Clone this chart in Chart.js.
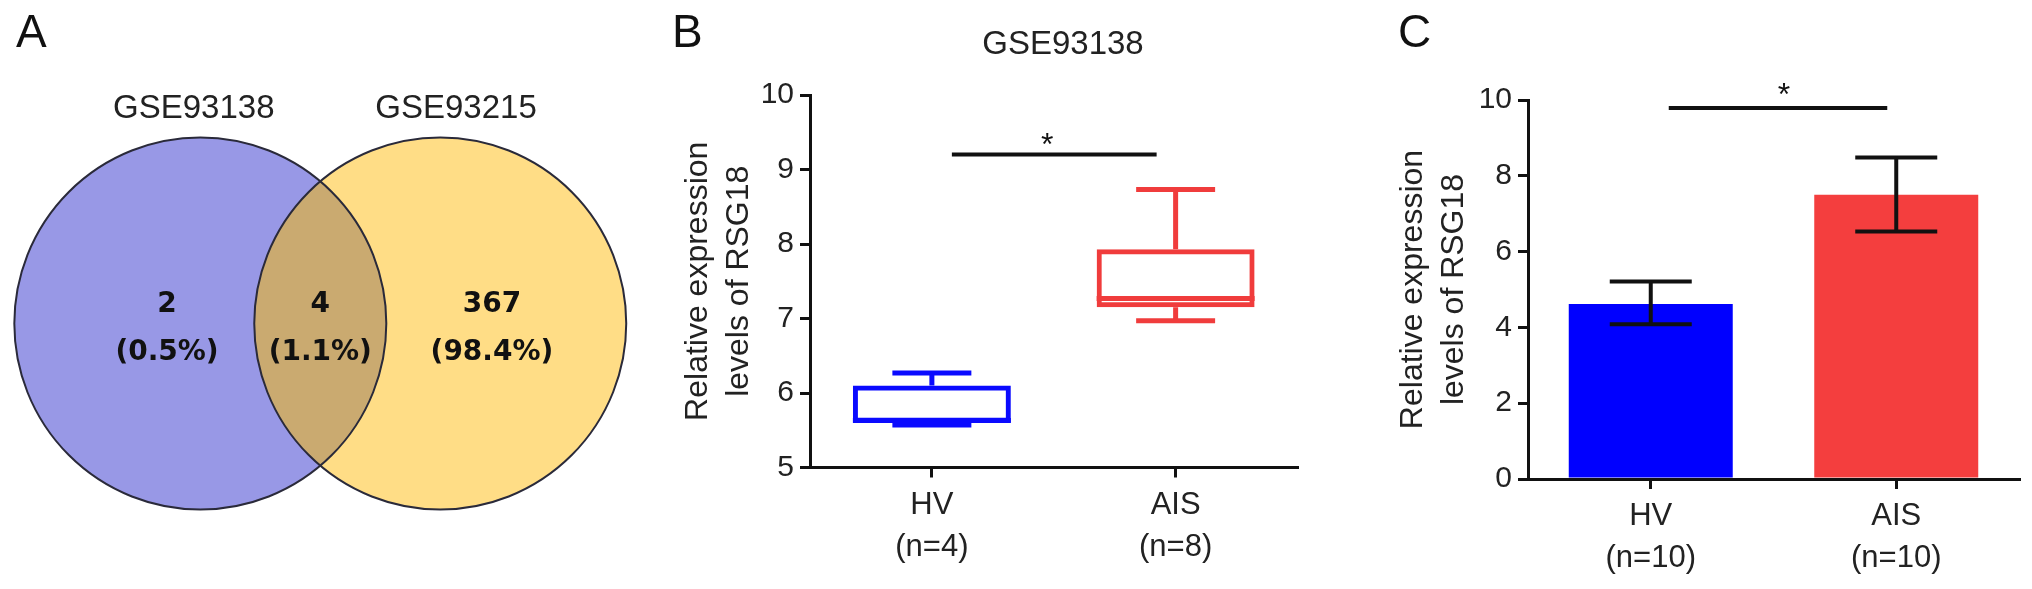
<!DOCTYPE html>
<html>
<head>
<meta charset="utf-8">
<script src="https://cdn.jsdelivr.net/npm/chart.js@4.4.0/dist/chart.umd.min.js"></script>
<style>
    body { margin: 0; background: #fff; }
    #wrap { position: relative; width: 2032px; height: 589px; overflow: hidden; font-family: 'Liberation Sans', Arial, sans-serif; color: #111; }
    canvas { position: absolute; top: 0; }
    .tag { position: absolute; top: 8px; font-size: 46px; line-height: 46px; }
    #titleB { position: absolute; left: 913px; top: 26px; width: 300px; text-align: center; font-size: 33px; line-height: 33px; color: #222; }
</style>
</head>
<body>
<div id="wrap">
    <canvas id="venn" width="640" height="589" style="left:0"></canvas>
    <canvas id="box" width="680" height="589" style="left:640px"></canvas>
    <canvas id="bar" width="702" height="589" style="left:1330px"></canvas>
    <div class="tag" style="left:16px">A</div>
    <div class="tag" style="left:672px">B</div>
    <div class="tag" style="left:1398px">C</div>
    <div id="titleB">GSE93138</div>
</div>
<script>
// panel A - overlap of the two datasets
var vennSets = ['GSE93138', 'GSE93215'];
var vennCounts = [2, 4, 367]; // only GSE93138, both, only GSE93215

// panel B - GSE93138 box plot
var boxGroups = [['HV', '(n=4)'], ['AIS', '(n=8)']];
var boxMin = [5.57, 6.97];
var boxQ1 = [5.60, 7.15];
var boxMedian = [5.63, 7.27];
var boxQ3 = [6.10, 7.93];
var boxMax = [6.27, 8.73];
var boxTicks = [5, 6, 7, 8, 9, 10];

// panel C - mean with error bars
var barGroups = [['HV', '(n=10)'], ['AIS', '(n=10)']];
var barMeans = [4.62, 7.50];
var barErrLow = [4.08, 6.53];
var barErrHigh = [5.21, 8.48];
var barTicks = [0, 2, 4, 6, 8, 10];

var sigLevels = [9.2, 9.79]; // B, C
var sigMarks = ['*', '*'];

var yTitle = ['Relative expression', 'levels of RSG18'];

Chart.defaults.font.family = "'Liberation Sans', Arial, sans-serif";
Chart.defaults.color = '#222';
Chart.defaults.animation = false;

var vennPlugin = {
    id: 'venn',
    afterDatasetsDraw: function (chart, args, opts) {
        var ctx = chart.ctx, x = chart.scales.x, y = chart.scales.y;
        var rx = x.getPixelForValue(1) - x.getPixelForValue(0);
        var ry = y.getPixelForValue(0) - y.getPixelForValue(1);
        var cs = chart.data.datasets.map(function (d, i) {
            var p = chart.getDatasetMeta(i).data[0];
            return [p.x, p.y];
        });
        var path = function (i) {
            ctx.beginPath();
            ctx.ellipse(cs[i][0], cs[i][1], rx, ry, 0, 0, Math.PI * 2);
        };
        ctx.save();
        opts.fills.forEach(function (f, i) { path(i); ctx.fillStyle = f; ctx.fill(); });
        ctx.save();
        path(0); ctx.clip();
        path(1); ctx.fillStyle = opts.overlap; ctx.fill();
        ctx.restore();
        ctx.lineWidth = 2;
        ctx.strokeStyle = '#2a2a3a';
        [0, 1].forEach(function (i) { path(i); ctx.stroke(); });

        ctx.textAlign = 'center';
        ctx.textBaseline = 'middle';
        ctx.fillStyle = '#222';
        ctx.font = "33px 'Liberation Sans', Arial, sans-serif";
        vennSets.forEach(function (s, i) {
            ctx.fillText(s, x.getPixelForValue(opts.setLabelX[i]), y.getPixelForValue(opts.setLabelY));
        });

        var total = vennCounts.reduce(function (a, b) { return a + b; }, 0);
        ctx.fillStyle = '#111';
        ctx.font = "bold 28px 'DejaVu Sans', sans-serif";
        vennCounts.forEach(function (c, i) {
            var px = x.getPixelForValue(opts.regionX[i]);
            ctx.fillText(String(c), px, y.getPixelForValue(opts.line1));
            ctx.fillText('(' + (c / total * 100).toFixed(1) + '%)', px, y.getPixelForValue(opts.line2));
        });
        ctx.restore();
    }
};

var whiskerPlugin = {
    id: 'whiskers',
    afterDatasetsDraw: function (chart, args, opts) {
        var ctx = chart.ctx, y = chart.scales.y;
        var meta = chart.getDatasetMeta(0);
        ctx.save();
        ctx.lineWidth = 5;
        meta.data.forEach(function (bar, i) {
            var half = bar.width / 2, cap = bar.width / 4;
            ctx.strokeStyle = opts.colors[i];
            ctx.beginPath();
            ctx.moveTo(bar.x, y.getPixelForValue(boxQ3[i]));
            ctx.lineTo(bar.x, y.getPixelForValue(boxMax[i]));
            ctx.moveTo(bar.x - cap, y.getPixelForValue(boxMax[i]));
            ctx.lineTo(bar.x + cap, y.getPixelForValue(boxMax[i]));
            ctx.moveTo(bar.x, y.getPixelForValue(boxQ1[i]));
            ctx.lineTo(bar.x, y.getPixelForValue(boxMin[i]));
            ctx.moveTo(bar.x - cap, y.getPixelForValue(boxMin[i]));
            ctx.lineTo(bar.x + cap, y.getPixelForValue(boxMin[i]));
            ctx.moveTo(bar.x - half, y.getPixelForValue(boxMedian[i]));
            ctx.lineTo(bar.x + half, y.getPixelForValue(boxMedian[i]));
            ctx.stroke();
        });
        ctx.restore();
    }
};

var errorPlugin = {
    id: 'errorBars',
    afterDatasetsDraw: function (chart) {
        var ctx = chart.ctx, y = chart.scales.y;
        var meta = chart.getDatasetMeta(0);
        ctx.save();
        ctx.lineWidth = 4;
        ctx.strokeStyle = '#111';
        meta.data.forEach(function (bar, i) {
            var cap = bar.width / 4;
            var top = y.getPixelForValue(barErrHigh[i]), low = y.getPixelForValue(barErrLow[i]);
            ctx.beginPath();
            ctx.moveTo(bar.x, top); ctx.lineTo(bar.x, low);
            ctx.moveTo(bar.x - cap, top); ctx.lineTo(bar.x + cap, top);
            ctx.moveTo(bar.x - cap, low); ctx.lineTo(bar.x + cap, low);
            ctx.stroke();
        });
        ctx.restore();
    }
};

var sigPlugin = {
    id: 'sig',
    afterDraw: function (chart, args, opts) {
        var ctx = chart.ctx, x = chart.scales.x, y = chart.scales.y;
        var x1 = x.getPixelForValue(0) + opts.inset[0];
        var x2 = x.getPixelForValue(1) - opts.inset[1];
        var py = y.getPixelForValue(opts.level);
        ctx.save();
        ctx.lineWidth = 4;
        ctx.strokeStyle = '#111';
        ctx.beginPath();
        ctx.moveTo(x1, py); ctx.lineTo(x2, py);
        ctx.stroke();
        ctx.fillStyle = '#111';
        ctx.font = "32px 'Liberation Sans', Arial, sans-serif";
        ctx.textAlign = 'center';
        ctx.textBaseline = 'alphabetic';
        ctx.fillText(opts.mark, (x1 + x2) / 2 - opts.shift, py - opts.gap + 17);
        ctx.restore();
    }
};

function axisY(ticksArr, titlePad, width) {
    return {
        min: ticksArr[0],
        max: ticksArr[ticksArr.length - 1],
        afterBuildTicks: function (s) { s.ticks = ticksArr.map(function (v) { return { value: v }; }); },
        afterFit: function (s) { s.width = width; },
        grid: { drawOnChartArea: false, drawTicks: true, tickLength: 10, lineWidth: 3, color: '#111' },
        border: { display: true, width: 3, color: '#111' },
        ticks: { font: { size: 30 }, color: '#222', padding: 6 },
        title: { display: true, text: yTitle, color: '#222', font: { size: 32, lineHeight: 1.28 }, padding: { top: titlePad, bottom: 0 } }
    };
}

function axisX() {
    return {
        type: 'category',
        offset: true,
        afterFit: function (s) { s.height = 100; },
        grid: { offset: false, drawOnChartArea: false, drawTicks: true, tickLength: 10, lineWidth: 3, color: '#111' },
        border: { display: true, width: 3, color: '#111' },
        ticks: { font: { size: 31, lineHeight: 1.35 }, color: '#222', padding: 7, maxRotation: 0, autoSkip: false }
    };
}

new Chart(document.getElementById('venn'), {
    type: 'scatter',
    data: {
        datasets: vennSets.map(function (s, i) {
            return { label: s, data: [{ x: i === 0 ? -0.645 : 0.645, y: 0 }], pointRadius: 0 };
        })
    },
    options: {
        responsive: false,
        devicePixelRatio: 1,
        layout: { padding: 0 },
        scales: {
            x: { type: 'linear', display: false, min: -1.722, max: 1.719 },
            y: { type: 'linear', display: false, min: -1.427, max: 1.739 }
        },
        plugins: {
            legend: { display: false },
            tooltip: { enabled: false },
            venn: {
                fills: ['rgb(152,152,230)', 'rgb(255,221,134)'],
                overlap: 'rgb(202,170,112)',
                setLabelX: [-0.68, 0.73],
                setLabelY: 1.156,
                regionX: [-0.824, 0, 0.923],
                line1: 0.1,
                line2: -0.155
            }
        }
    },
    plugins: [vennPlugin]
});

var boxColors = ['#0a0aff', '#f03c3c'];
new Chart(document.getElementById('box'), {
    type: 'bar',
    data: {
        labels: boxGroups,
        datasets: [{
            data: boxQ1.map(function (q, i) { return [q, boxQ3[i]]; }),
            backgroundColor: 'rgba(255,255,255,0)',
            borderColor: boxColors,
            borderWidth: 5,
            borderSkipped: false,
            barPercentage: 0.648,
            categoryPercentage: 1
        }]
    },
    options: {
        responsive: false,
        devicePixelRatio: 1,
        layout: { padding: { left: 0, right: 22.5, top: 95, bottom: 21.5 } },
        scales: { x: axisX(), y: axisY(boxTicks, 37.5, 170) },
        plugins: {
            legend: { display: false },
            tooltip: { enabled: false },
            whiskers: { colors: boxColors },
            sig: { level: sigLevels[0], mark: sigMarks[0], inset: [20, 19], gap: 17, shift: 7 }
        }
    },
    plugins: [whiskerPlugin, sigPlugin]
});

new Chart(document.getElementById('bar'), {
    type: 'bar',
    data: {
        labels: barGroups,
        datasets: [{
            data: barMeans,
            backgroundColor: ['#0000ff', '#f43e3e'],
            borderWidth: 0,
            barPercentage: 0.668,
            categoryPercentage: 1
        }]
    },
    options: {
        responsive: false,
        devicePixelRatio: 1,
        layout: { padding: { left: 0, right: 13, top: 100, bottom: 10 } },
        scales: { x: axisX(), y: axisY(barTicks, 62.5, 198) },
        plugins: {
            legend: { display: false },
            tooltip: { enabled: false },
            sig: { level: sigLevels[1], mark: sigMarks[1], inset: [18, 9], gap: 20, shift: -6 }
        }
    },
    plugins: [errorPlugin, sigPlugin]
});
</script>
</body>
</html>
